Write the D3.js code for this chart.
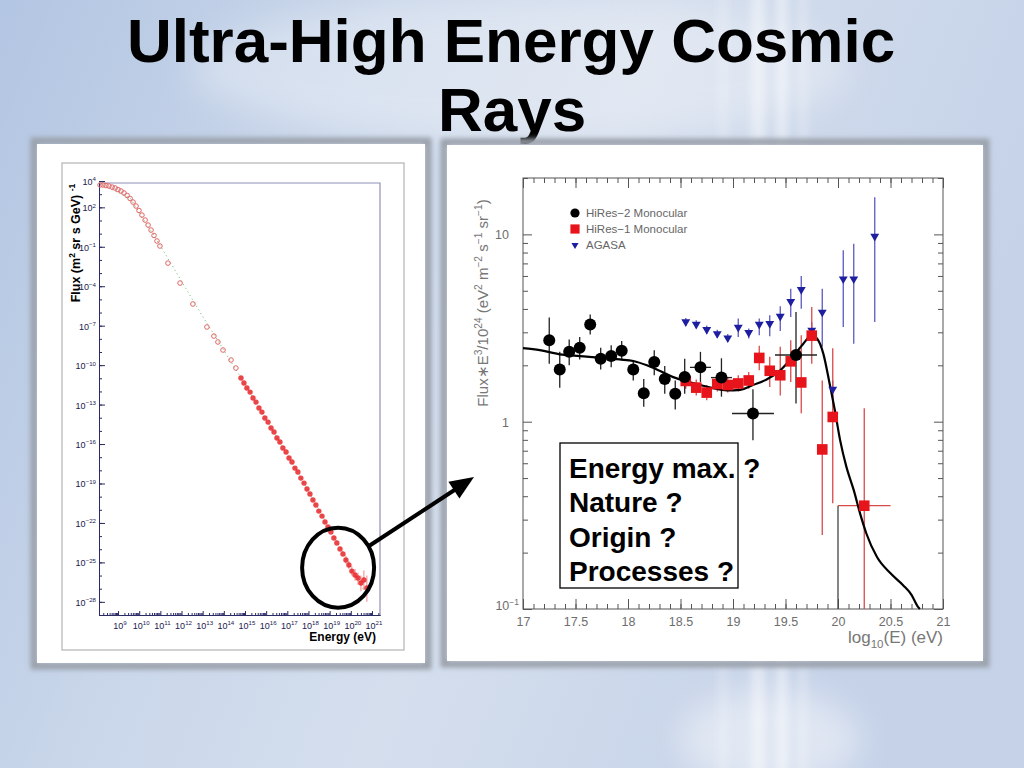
<!DOCTYPE html>
<html>
<head>
<meta charset="utf-8">
<script src="https://cdn.jsdelivr.net/npm/d3@7"></script>
<style>
  body { margin: 0; overflow: hidden; background: #c8d5e9; }
  svg { display: block; font-family: "Liberation Sans", Arial, sans-serif; }
</style>
</head>
<body>
<script>
// ---- left panel : all-particle spectrum (log10 E in eV, log10 flux) ----
var directE = [8.15, 8.29, 8.43, 8.57, 8.72, 8.86, 9.00, 9.14, 9.28, 9.43, 9.57, 9.71, 9.85, 9.99, 10.13, 10.28, 10.42, 10.56, 10.70, 10.84, 10.98];
var directF = [3.70, 3.70, 3.66, 3.62, 3.54, 3.47, 3.35, 3.24, 3.09, 2.90, 2.67, 2.40, 2.10, 1.76, 1.41, 1.03, 0.65, 0.27, -0.14, -0.56, -0.94];
var sparseE = [11.36, 11.93, 12.54, 13.20, 13.53, 13.72, 13.96, 14.34, 14.57];
var sparseF = [-2.24, -3.76, -5.35, -7.10, -7.79, -8.24, -8.85, -9.61, -10.22];
var airE = [14.81, 14.95, 15.09, 15.24, 15.38, 15.52, 15.66, 15.80, 15.94, 16.09, 16.23, 16.37, 16.51, 16.65, 16.79, 16.94, 17.08, 17.22, 17.36, 17.50, 17.64,
            17.79, 17.93, 18.07, 18.21, 18.35, 18.49, 18.64, 18.78, 18.92, 19.06, 19.20, 19.34, 19.49, 19.63, 19.77, 19.91, 20.05, 20.20, 20.34, 20.48, 20.62, 20.76];
var airF = [-10.98, -11.36, -11.74, -12.05, -12.50, -12.81, -13.26, -13.57, -14.02, -14.33, -14.78, -15.09, -15.54, -15.85, -16.30, -16.61, -17.06, -17.37, -17.83, -18.13, -18.59,
            -18.97, -19.42, -19.80, -20.26, -20.64, -21.10, -21.48, -21.93, -22.31, -22.69, -23.15, -23.53, -23.98, -24.36, -24.82, -25.20, -25.66, -25.96, -26.19, -26.57, -26.34, -26.95];
var errE = [19.77, 19.91, 20.05, 20.20, 20.34, 20.48, 20.62, 20.76];
var errLo = [-25.1, -25.5, -26.0, -26.4, -26.7, -27.2, -27.1, -28.0];
var errHi = [-24.5, -24.9, -25.3, -25.5, -25.8, -26.0, -25.6, -26.0];
var modelE = [8.15, 9.57, 10.98, 11.46, 12.87, 14.76, 17.60, 20.67];
var modelF = [3.77, 2.71, -0.87, -2.16, -5.96, -10.83, -18.43, -27.25];
var leftYLabels = [4, 2, -1, -4, -7, -10, -13, -16, -19, -22, -25, -28];
var leftXLabels = [9, 10, 11, 12, 13, 14, 15, 16, 17, 18, 19, 20, 21];

// ---- right panel : E^3 x flux near the GZK region ----
var hires2E = [17.25, 17.35, 17.44, 17.54, 17.64, 17.74, 17.84, 17.94, 18.05, 18.15, 18.25, 18.35, 18.45, 18.54, 18.69, 18.89, 19.19, 19.60];
var hires2F = [2.72, 1.90, 2.36, 2.48, 3.30, 2.17, 2.24, 2.39, 1.90, 1.42, 2.08, 1.69, 1.41, 1.73, 1.95, 1.72, 1.106, 2.27];
var hires2Lo = [2.04, 1.52, 2.00, 2.15, 2.92, 1.90, 1.95, 2.13, 1.66, 1.20, 1.77, 1.41, 1.16, 1.41, 1.63, 1.36, 0.797, 1.25];
var hires2Hi = [3.60, 2.36, 2.75, 2.83, 3.73, 2.48, 2.56, 2.70, 2.13, 1.69, 2.41, 1.98, 1.66, 2.17, 2.36, 2.18, 1.49, 3.85];
var hires2Ew = [0, 0, 0, 0, 0, 0, 0, 0, 0, 0, 0, 0, 0, 0, 0.10, 0.10, 0.20, 0.20];
var limitE = [20.0];
var limitLo = [0.1];
var limitHi = [0.356];

var hires1E = [18.55, 18.65, 18.75, 18.85, 18.95, 19.05, 19.15, 19.25, 19.35, 19.45, 19.55, 19.65, 19.75, 19.85, 19.95, 20.25];
var hires1F = [1.65, 1.52, 1.43, 1.59, 1.57, 1.60, 1.66, 2.19, 1.87, 1.77, 2.10, 1.62, 2.88, 0.711, 1.06, 0.356];
var hires1Lo = [1.50, 1.38, 1.30, 1.45, 1.43, 1.45, 1.50, 1.88, 1.53, 1.38, 1.63, 1.11, 2.04, 0.248, 0.367, 0.1];
var hires1Hi = [1.82, 1.68, 1.57, 1.75, 1.73, 1.77, 1.84, 2.54, 2.22, 2.51, 2.72, 2.89, 4.10, 1.66, 2.47, 1.18];
var hires1Ew = [0, 0, 0, 0, 0, 0, 0, 0, 0, 0, 0, 0, 0, 0, 0, 0.25];

var agasaE = [18.55, 18.65, 18.75, 18.85, 18.95, 19.05, 19.15, 19.25, 19.35, 19.45, 19.55, 19.65, 19.75, 19.85, 19.95, 20.05, 20.15, 20.35];
var agasaF = [3.41, 3.31, 3.10, 2.95, 2.80, 3.19, 2.99, 3.31, 3.34, 3.65, 4.38, 5.07, 3.08, 3.84, 1.49, 5.78, 5.78, 9.76];
var agasaLo = [3.25, 3.15, 2.95, 2.81, 2.66, 2.83, 2.78, 2.89, 2.86, 3.05, 3.62, 4.01, 2.80, 2.51, 1.30, 3.20, 2.61, 3.41];
var agasaHi = [3.58, 3.48, 3.26, 3.10, 2.94, 3.56, 3.14, 3.56, 3.70, 4.13, 5.13, 5.99, 3.40, 5.13, 1.66, 8.22, 8.92, 15.8];

var fitE = [17.0, 17.16, 17.35, 17.54, 17.73, 17.92, 18.05, 18.18, 18.30, 18.43, 18.56, 18.69, 18.81, 18.94, 19.07, 19.19, 19.32, 19.45, 19.57, 19.67,
            19.75, 19.80, 19.86, 19.92, 19.97, 20.02, 20.08, 20.15, 20.21, 20.27, 20.37, 20.50, 20.62, 20.70, 20.76, 20.78];
var fitF = [2.47, 2.41, 2.29, 2.24, 2.20, 2.15, 2.11, 2.00, 1.87, 1.73, 1.64, 1.57, 1.51, 1.47, 1.48, 1.57, 1.68, 1.88, 2.22, 2.61,
            2.89, 2.78, 2.31, 1.60, 1.15, 0.797, 0.574, 0.431, 0.324, 0.253, 0.190, 0.155, 0.134, 0.119, 0.103, 0.1];

var rightXLabels = [17, 17.5, 18, 18.5, 19, 19.5, 20, 20.5, 21];
var legendNames = ['HiRes\u22122 Monocular', 'HiRes\u22121 Monocular', 'AGASA'];
var questions = ['Energy max. ?', 'Nature ?', 'Origin ?', 'Processes ?'];

var svg = d3.select('body').append('svg').attr('width', 1024).attr('height', 768);
var defs = svg.append('defs');

// slide background
var grad = defs.append('linearGradient').attr('id', 'bg').attr('x1', 0).attr('x2', 1).attr('y1', 0).attr('y2', 0.3);
[[0, '#b2c5e2'], [0.35, '#cad7ea'], [0.6, '#d4deed'], [1, '#c5d2e8']].forEach(function (s) {
  grad.append('stop').attr('offset', s[0]).attr('stop-color', s[1]);
});
defs.append('filter').attr('id', 'soft').attr('x', '-50%').attr('y', '-50%').attr('width', '200%').attr('height', '200%')
  .append('feGaussianBlur').attr('stdDeviation', 16);
defs.append('filter').attr('id', 'streak').attr('x', '-100%').attr('width', '300%')
  .append('feGaussianBlur').attr('stdDeviation', 5);
defs.append('filter').attr('id', 'edge').attr('x', '-10%').attr('y', '-10%').attr('width', '120%').attr('height', '120%')
  .append('feGaussianBlur').attr('stdDeviation', 2.5);

svg.append('rect').attr('width', 1024).attr('height', 768).attr('fill', 'url(#bg)');
svg.append('ellipse').attr('cx', 520).attr('cy', 70).attr('rx', 330).attr('ry', 70)
  .attr('fill', '#fff').attr('opacity', 0.3).attr('filter', 'url(#soft)');
[[752, 12, 0.5], [778, 8, 0.6], [800, 6, 0.35], [720, 6, 0.3]].forEach(function (s) {
  svg.append('rect').attr('x', s[0]).attr('y', -20).attr('width', s[1]).attr('height', 820)
    .attr('fill', '#fff').attr('opacity', s[2]).attr('filter', 'url(#streak)');
});
svg.append('ellipse').attr('cx', 770).attr('cy', 740).attr('rx', 90).attr('ry', 50)
  .attr('fill', '#fff').attr('opacity', 0.45).attr('filter', 'url(#soft)');

// title
var title = svg.append('text').attr('text-anchor', 'middle').attr('font-weight', 'bold')
  .attr('font-size', 62).attr('fill', '#000');
title.append('tspan').attr('x', 511).attr('y', 62).text('Ultra-High Energy Cosmic');
title.append('tspan').attr('x', 512).attr('y', 131).text('Rays');

function panel(x, y, w, h) {
  svg.append('rect').attr('x', x).attr('y', y).attr('width', w).attr('height', h)
    .attr('fill', 'none').attr('stroke', '#9aa0aa').attr('stroke-width', 7).attr('filter', 'url(#edge)');
  svg.append('rect').attr('x', x + 3).attr('y', y + 3).attr('width', w - 6).attr('height', h - 6).attr('fill', '#fff');
}
panel(34, 141, 394, 525);
panel(444, 142, 542, 522);

// text with super/subscripts
function richText(sel, parts, size) {
  var shift = 0;
  parts.forEach(function (p) {
    var target = p[1] === 'sup' ? -size * 0.4 : (p[1] === 'sub' ? size * 0.28 : 0);
    sel.append('tspan').attr('dy', target - shift).attr('font-size', p[1] ? size * 0.68 : size).text(p[0]);
    shift = target;
  });
}

// ================= left chart =================
var L = svg.append('g');
var xL = d3.scaleLog().domain([Math.pow(10, 8.1), Math.pow(10, 21.38)]).range([99, 380]);
var yL = d3.scaleLog().domain([1e-29, Math.pow(10, 3.85)]).range([615, 183]);
function pw(v) { return Math.pow(10, v); }

L.append('rect').attr('x', 62).attr('y', 163).attr('width', 342).attr('height', 487)
  .attr('fill', 'none').attr('stroke', '#b9b9b9').attr('stroke-width', 1.3);
L.append('path').attr('d', 'M99,183H380V615').attr('fill', 'none').attr('stroke', '#8f8fb8').attr('stroke-width', 1.2);

var decY = d3.range(-29, 4).map(pw);
L.append('g').attr('transform', 'translate(99,0)')
  .call(d3.axisLeft(yL).tickValues(decY).tickSize(-3).tickSizeOuter(0).tickFormat(''));
L.append('g').attr('transform', 'translate(99,0)')
  .call(d3.axisLeft(yL).tickValues(leftYLabels.map(pw)).tickSize(-6).tickSizeOuter(0).tickFormat(''));
var decX = d3.range(9, 22).map(pw);
var minX = [];
d3.range(8, 22).forEach(function (e) { d3.range(2, 10).forEach(function (m) { var v = m * pw(e); if (v < xL.domain()[1]) minX.push(v); }); });
L.append('g').attr('transform', 'translate(0,615)')
  .call(d3.axisBottom(xL).tickValues(minX).tickSize(-2).tickSizeOuter(0).tickFormat(''));
L.append('g').attr('transform', 'translate(0,615)')
  .call(d3.axisBottom(xL).tickValues(decX).tickSize(-4).tickSizeOuter(0).tickFormat(''));
L.selectAll('.domain, .tick line').attr('stroke', '#2a2a66');

leftYLabels.forEach(function (e) {
  var t = L.append('text').attr('x', 96).attr('y', yL(pw(e)) + 4).attr('text-anchor', 'end')
    .attr('font-size', 9).attr('fill', '#202050');
  richText(t, [['10', ''], [e < 0 ? '\u2212' + (-e) : String(e), 'sup']], 9);
});
leftXLabels.forEach(function (e) {
  var t = L.append('text').attr('x', xL(pw(e)) + 2).attr('y', 629).attr('text-anchor', 'middle')
    .attr('font-size', 9).attr('fill', '#202050');
  richText(t, [['10', ''], [String(e), 'sup']], 9);
});

var ylab = L.append('text').attr('transform', 'translate(80,243) rotate(-90)').attr('text-anchor', 'middle')
  .attr('font-weight', 'bold').attr('font-size', 12.5).attr('fill', '#000');
richText(ylab, [['Flux  (m', ''], ['2', 'sup'], [' sr s GeV) ', ''], ['-1', 'sup']], 12.5);
L.append('text').attr('x', 376).attr('y', 641).attr('text-anchor', 'end').attr('font-weight', 'bold')
  .attr('font-size', 12).attr('fill', '#000').text('Energy  (eV)');

L.append('path').datum(modelE.map(function (e, i) { return [e, modelF[i]]; }))
  .attr('d', d3.line().x(function (d) { return xL(pw(d[0])); }).y(function (d) { return yL(pw(d[1])); }))
  .attr('fill', 'none').attr('stroke', '#7cc47c').attr('stroke-width', 1).attr('stroke-dasharray', '1.2,3');

L.append('g').selectAll('line').data(errE).enter().append('line')
  .attr('x1', function (d) { return xL(pw(d)); }).attr('x2', function (d) { return xL(pw(d)); })
  .attr('y1', function (d, i) { return yL(pw(errLo[i])); }).attr('y2', function (d, i) { return yL(pw(errHi[i])); })
  .attr('stroke', '#f08a8a').attr('stroke-width', 1);

L.append('g').selectAll('circle').data(directE.concat(sparseE)).enter().append('circle')
  .attr('cx', function (d) { return xL(pw(d)); })
  .attr('cy', function (d, i) { return yL(pw(directF.concat(sparseF)[i])); })
  .attr('r', 2.3).attr('fill', 'none').attr('stroke', '#e06666').attr('stroke-width', 1);
L.append('g').selectAll('circle').data(airE).enter().append('circle')
  .attr('cx', function (d) { return xL(pw(d)); })
  .attr('cy', function (d, i) { return yL(pw(airF[i])); })
  .attr('r', 2.7).attr('fill', '#e8262a').attr('opacity', 0.85);

// annotation circle and arrow
var anno = { logE: 19.4, logF: -25.4 };
L.append('ellipse').attr('cx', xL(pw(anno.logE))).attr('cy', yL(pw(anno.logF))).attr('rx', 36).attr('ry', 40)
  .attr('fill', 'none').attr('stroke', '#000').attr('stroke-width', 4);
svg.append('line').attr('x1', 369).attr('y1', 546).attr('x2', 456).attr('y2', 489)
  .attr('stroke', '#000').attr('stroke-width', 4);
svg.append('path').attr('d', 'M474,477L448.4,481.7L459.4,498.5Z').attr('fill', '#000');

// ================= right chart =================
var R = svg.append('g');
var xR = d3.scaleLinear().domain([17, 21]).range([523, 943]);
var yR = d3.scaleLog().domain([0.1, 20]).range([609, 178]);
var grey = '#6e6e6e';

R.append('rect').attr('x', 523).attr('y', 178).attr('width', 420).attr('height', 431)
  .attr('fill', 'none').attr('stroke', '#555').attr('stroke-width', 1);

var xMinor = d3.range(170, 211).map(function (d) { return d / 10; });
var yMajor = [0.1, 1, 10];
var yMinor = [];
[0.1, 1, 10].forEach(function (b) { d3.range(2, 10).forEach(function (m) { if (m * b <= 20) yMinor.push(m * b); }); });

function tickAxis(axis, tr) {
  var g = R.append('g').attr('transform', tr).call(axis);
  g.select('.domain').remove();
  g.selectAll('line').attr('stroke', '#555');
  return g;
}
tickAxis(d3.axisBottom(xR).tickValues(xMinor).tickSize(-5).tickFormat(''), 'translate(0,609)');
tickAxis(d3.axisTop(xR).tickValues(xMinor).tickSize(-5).tickFormat(''), 'translate(0,178)');
tickAxis(d3.axisTop(xR).tickValues(rightXLabels).tickSize(-10).tickFormat(''), 'translate(0,178)');
var xAx = tickAxis(d3.axisBottom(xR).tickValues(rightXLabels).tickSize(-10).tickPadding(8).tickFormat(d3.format('')), 'translate(0,609)');
xAx.selectAll('text').attr('font-size', 12.5).attr('fill', grey).attr('font-family', 'Liberation Sans, Arial');

tickAxis(d3.axisLeft(yR).tickValues(yMinor).tickSize(-5).tickFormat(''), 'translate(523,0)');
tickAxis(d3.axisRight(yR).tickValues(yMinor).tickSize(-5).tickFormat(''), 'translate(943,0)');
tickAxis(d3.axisRight(yR).tickValues(yMajor).tickSize(-9).tickFormat(''), 'translate(943,0)');
var yAx = tickAxis(d3.axisLeft(yR).tickValues(yMajor).tickSize(-9).tickPadding(14).tickFormat(''), 'translate(523,0)');
yAx.selectAll('.tick').each(function (v) {
  var t = d3.select(this).append('text').attr('x', -14).attr('dy', '0.35em')
    .attr('text-anchor', 'end').attr('font-size', 12.5).attr('fill', grey);
  if (v < 1) {
    t.attr('x', -4).attr('dy', '0.55em');
    richText(t, [['10', ''], ['\u22121', 'sup']], 12.5);
  } else {
    t.text(v === 1 ? '1' : '10');
  }
});

var ytitle = R.append('text').attr('transform', 'translate(488,303) rotate(-90)').attr('text-anchor', 'middle')
  .attr('font-size', 15).attr('fill', '#777');
richText(ytitle, [['Flux\u2217E', ''], ['3', 'sup'], ['/10', ''], ['24', 'sup'], [' (eV', ''], ['2', 'sup'], [' m', ''], ['\u22122', 'sup'],
  [' s', ''], ['\u22121', 'sup'], [' sr', ''], ['\u22121', 'sup'], [')', '']], 15);
var xtitle = R.append('text').attr('x', 943).attr('y', 643).attr('text-anchor', 'end')
  .attr('font-size', 17).attr('fill', '#777');
richText(xtitle, [['log', ''], ['10', 'sub'], ['(E) (eV)', '']], 17);

function errorBars(E, Lo, Hi, Ew, F, color) {
  var g = R.append('g').attr('stroke', color).attr('stroke-width', 1.3);
  g.selectAll('line.v').data(E).enter().append('line').attr('class', 'v')
    .attr('x1', function (d) { return xR(d); }).attr('x2', function (d) { return xR(d); })
    .attr('y1', function (d, i) { return yR(Lo[i]); }).attr('y2', function (d, i) { return yR(Hi[i]); });
  if (Ew) {
    g.selectAll('line.h').data(E.filter(function (d, i) { return Ew[i] > 0; })).enter().append('line').attr('class', 'h')
      .attr('x1', function (d) { return xR(d - Ew[E.indexOf(d)]); }).attr('x2', function (d) { return xR(d + Ew[E.indexOf(d)]); })
      .attr('y1', function (d) { return yR(F[E.indexOf(d)]); }).attr('y2', function (d) { return yR(F[E.indexOf(d)]); });
  }
}
errorBars(agasaE, agasaLo, agasaHi, null, agasaF, '#5a5ac0');
errorBars(hires1E, hires1Lo, hires1Hi, hires1Ew, hires1F, '#d84a4a');
errorBars(hires2E, hires2Lo, hires2Hi, hires2Ew, hires2F, '#222');
errorBars(limitE, limitLo, limitHi, null, limitHi, '#444');

R.append('path').datum(fitE.map(function (e, i) { return [e, fitF[i]]; }))
  .attr('d', d3.line().curve(d3.curveMonotoneX).x(function (d) { return xR(d[0]); }).y(function (d) { return yR(d[1]); }))
  .attr('fill', 'none').attr('stroke', '#000').attr('stroke-width', 2.2);

R.append('g').selectAll('path').data(agasaE).enter().append('path')
  .attr('d', d3.symbol(d3.symbolTriangle, 34))
  .attr('transform', function (d, i) { return 'translate(' + xR(d) + ',' + yR(agasaF[i]) + ') rotate(180)'; })
  .attr('fill', '#1e1ea0');
R.append('g').selectAll('rect').data(hires1E).enter().append('rect')
  .attr('x', function (d) { return xR(d) - 5.3; }).attr('y', function (d, i) { return yR(hires1F[i]) - 5.3; })
  .attr('width', 10.6).attr('height', 10.6).attr('fill', '#e8141c');
R.append('g').selectAll('circle').data(hires2E).enter().append('circle')
  .attr('cx', function (d) { return xR(d); }).attr('cy', function (d, i) { return yR(hires2F[i]); })
  .attr('r', 6).attr('fill', '#000');

// legend
var leg = R.append('g').attr('transform', 'translate(575,213)');
legendNames.forEach(function (name, i) {
  var row = leg.append('g').attr('transform', 'translate(0,' + i * 16 + ')');
  if (i === 0) row.append('circle').attr('r', 4.6).attr('fill', '#000');
  if (i === 1) row.append('rect').attr('x', -4.6).attr('y', -4.6).attr('width', 9.2).attr('height', 9.2).attr('fill', '#e8141c');
  if (i === 2) row.append('path').attr('d', d3.symbol(d3.symbolTriangle, 22)).attr('transform', 'rotate(180)').attr('fill', '#1e1ea0');
  row.append('text').attr('x', 11).attr('dy', '0.36em').attr('font-size', 11.5).attr('fill', '#666').text(name);
});

// question box
R.append('rect').attr('x', 560).attr('y', 443).attr('width', 178).attr('height', 145)
  .attr('fill', '#fff').attr('stroke', '#000').attr('stroke-width', 1.3);
R.selectAll('text.q').data(questions).enter().append('text').attr('class', 'q')
  .attr('x', 569).attr('y', function (d, i) { return 478 + i * 34.3; })
  .attr('font-size', 28).attr('font-weight', 'bold').attr('fill', '#000').text(function (d) { return d; });
</script>
</body>
</html>
